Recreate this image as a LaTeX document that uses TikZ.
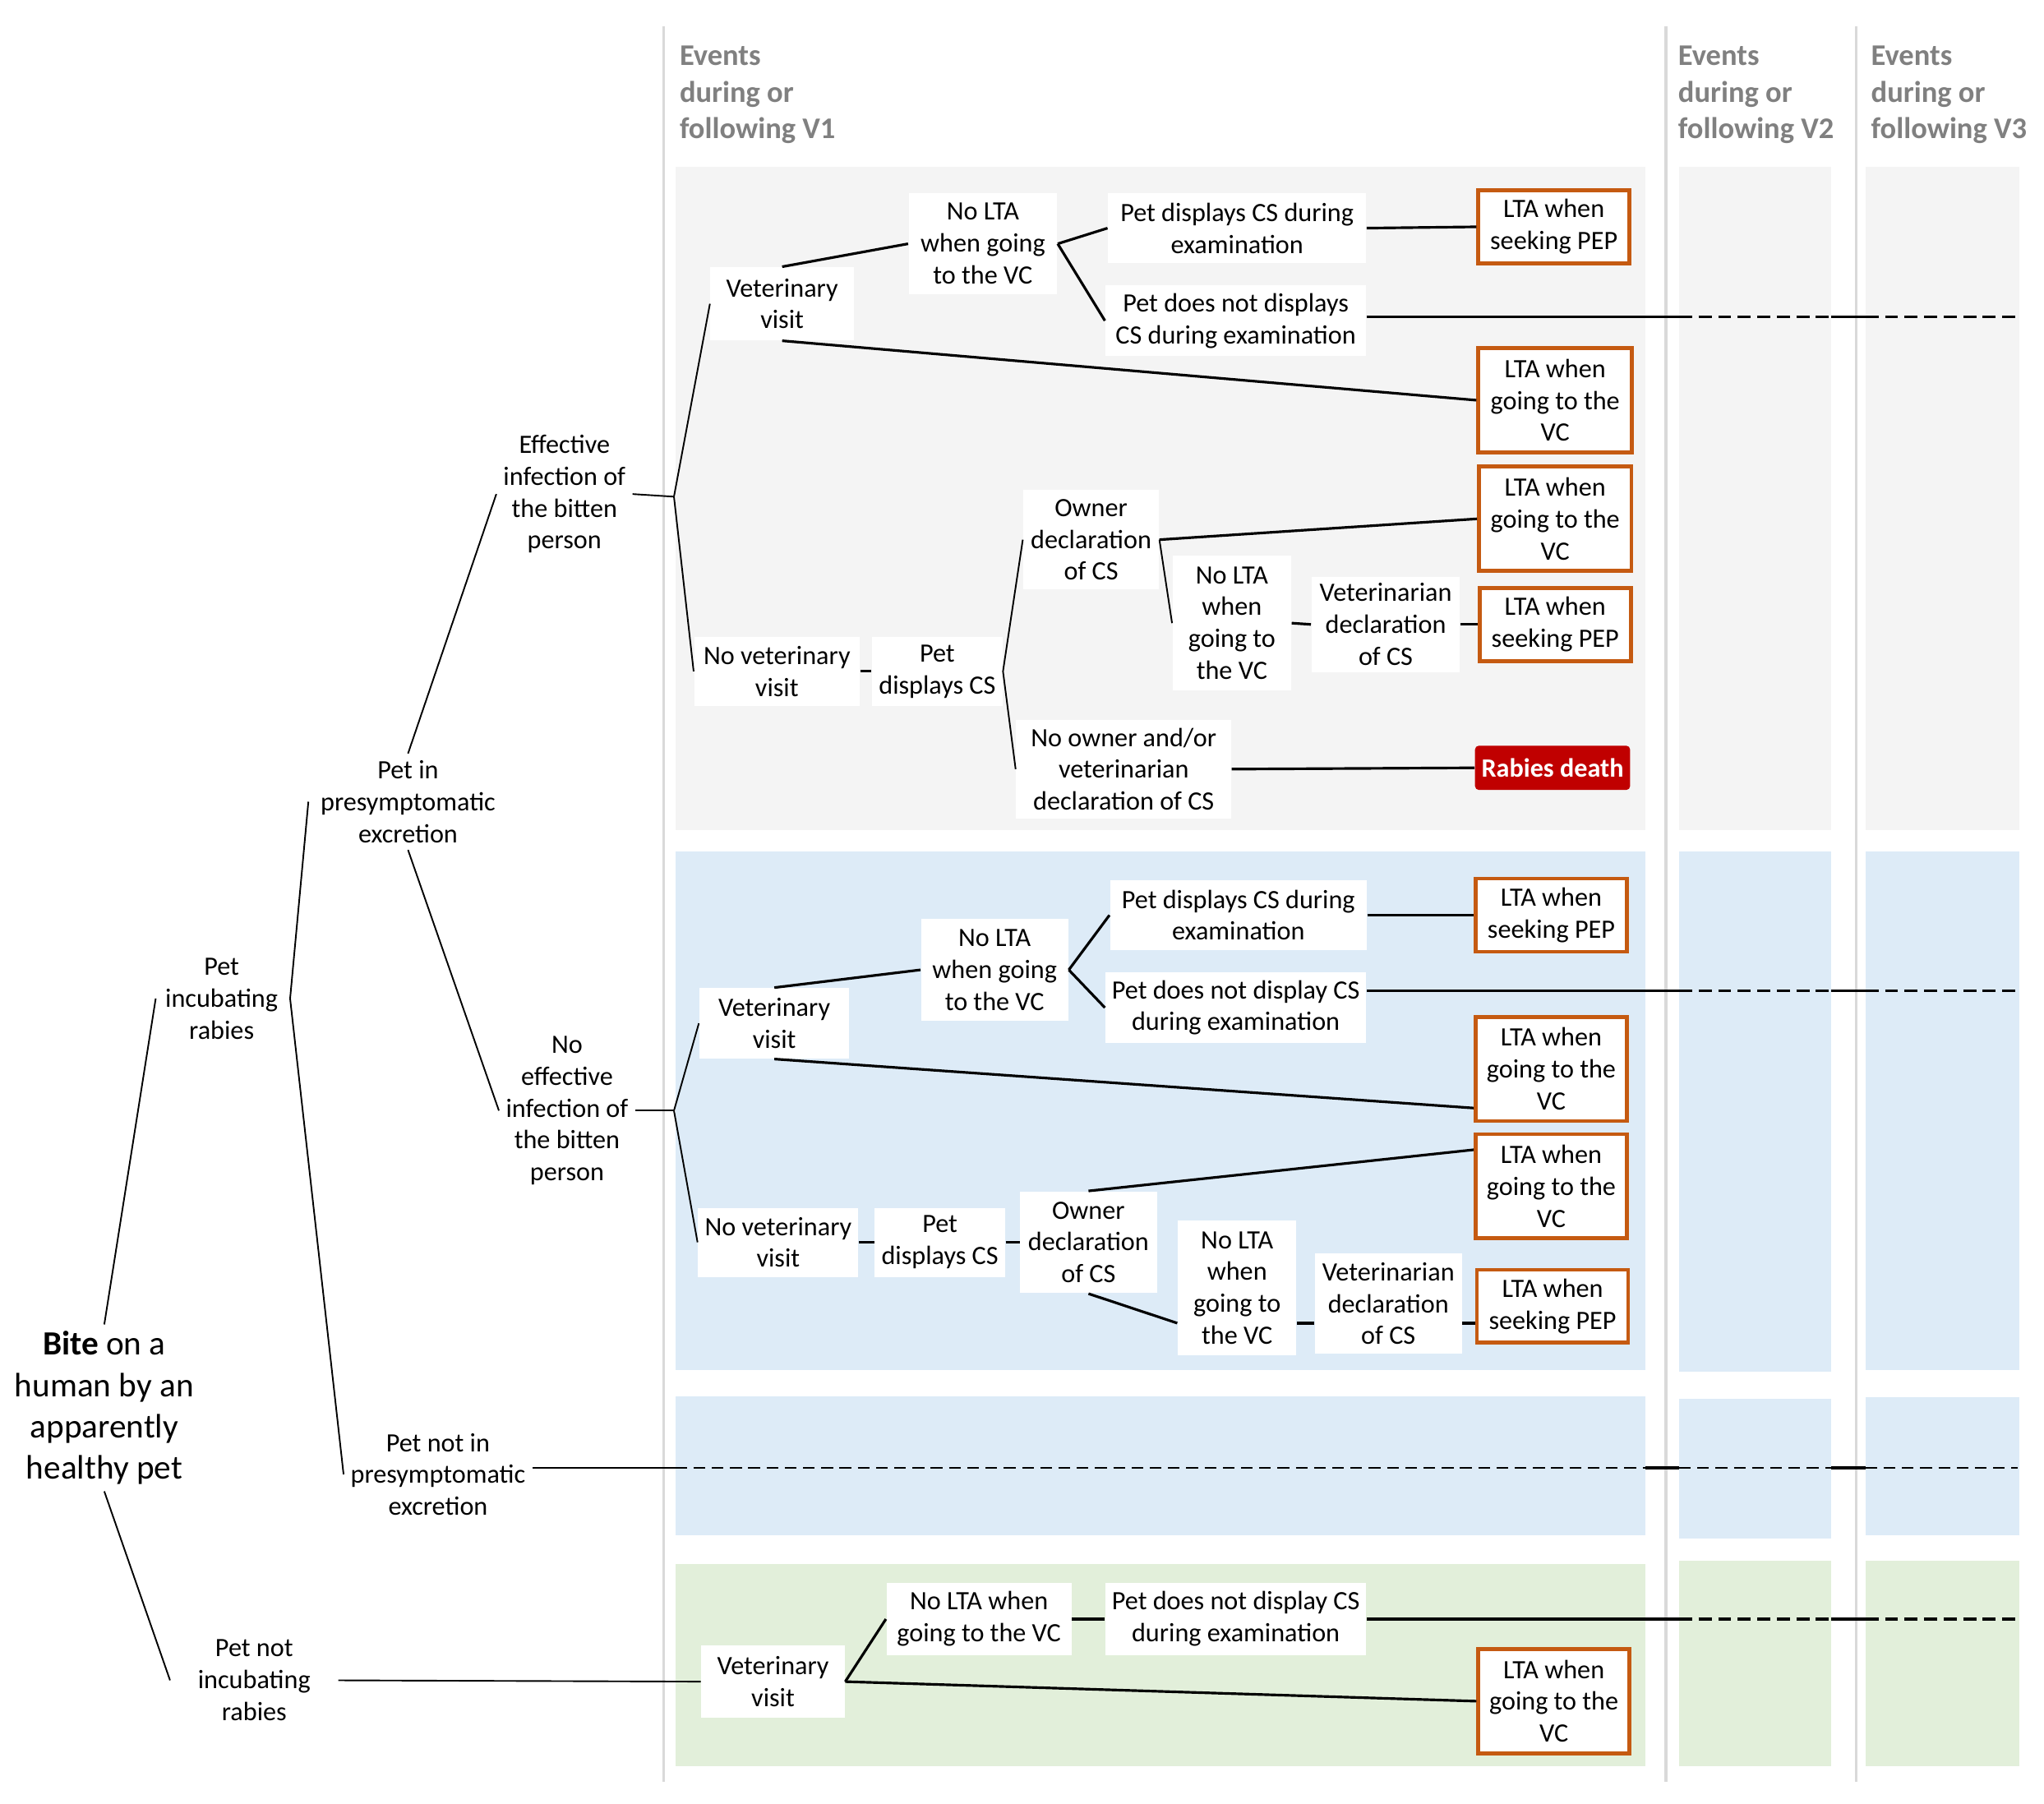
\documentclass[tikz,border=0pt]{standalone}
\usepackage{fontspec}
\setmainfont{Carlito}
\definecolor{panelgray}{HTML}{F4F4F4}
\definecolor{panelblue}{HTML}{DDEBF7}
\definecolor{panelgreen}{HTML}{E2EFDA}
\definecolor{ltaorange}{HTML}{C55A11}
\definecolor{deathred}{HTML}{C00000}
\definecolor{headgray}{HTML}{808080}
\definecolor{divgray}{HTML}{D9D9D9}
\begin{document}
\begin{tikzpicture}[x=0.5pt,y=-0.5pt,
  every node/.style={font=\fontsize{10.15}{12.25}\selectfont, align=center},
  treetext/.style={inner sep=2.5pt},
  wbox/.style 2 args={fill=white, inner sep=0pt, minimum width=#1pt, minimum height=#2pt},
  obox/.style 2 args={fill=white, draw=ltaorange, line width=1.5pt, inner sep=0pt, minimum width=#1pt, minimum height=#2pt},
  death/.style={fill=deathred, text=white, rounded corners=1.5pt, inner sep=0pt, minimum width=59.5pt, minimum height=17pt, font=\fontsize{10.15}{12.25}\selectfont\bfseries},
  header/.style={anchor=north west, inner sep=0pt, align=left, text=headgray, font=\fontsize{11.5}{14}\selectfont\bfseries},
  tline/.style={line width=0.6pt},
  cline/.style={line width=1pt},
  dline/.style={line width=1pt, dash pattern=on 5pt off 2.5pt},
  thinline/.style={line width=0.6pt},
  thindash/.style={line width=0.6pt, dash pattern=on 4.5pt off 2.5pt},
  divider/.style={draw=divgray, line width=1pt}
]
\useasboundingbox (0,0) rectangle (1568,1383.3);

% panels
\fill[panelgray] (518,128) rectangle (1262,637);
\fill[panelgray] (1288,128) rectangle (1405,637);
\fill[panelgray] (1431,128) rectangle (1549,637);
\fill[panelblue] (518,653) rectangle (1262,1051);
\fill[panelblue] (1288,653) rectangle (1405,1052);
\fill[panelblue] (1431,653) rectangle (1549,1051);
\fill[panelblue] (518,1071) rectangle (1262,1178);
\fill[panelblue] (1288,1073) rectangle (1405,1180);
\fill[panelblue] (1431,1072) rectangle (1549,1178);
\fill[panelgreen] (518,1200) rectangle (1262,1355);
\fill[panelgreen] (1288,1197) rectangle (1405,1355);
\fill[panelgreen] (1431,1197) rectangle (1549,1355);

% dividers
\draw[divider] (509,20) -- (509,1367);
\draw[divider] (1278,20) -- (1278,1367);
\draw[divider] (1424,20) -- (1424,1367);

% headers
\node[header] (h1) at (521,35) {Events\\during or\\following V1};
\node[header] (h2) at (1287,35) {Events\\during or\\following V2};
\node[header] (h3) at (1435,35) {Events\\during or\\following V3};

\coordinate (xV1l) at (518,0);
\coordinate (xV1r) at (1262,0);
\coordinate (xV2l) at (1288,0);
\coordinate (xV2r) at (1405,0);
\coordinate (xV3l) at (1431,0);
\coordinate (xEnd) at (1548,0);

% left tree
\node[treetext, font=\fontsize{13}{15.8}\selectfont] (bite) at (80,1080) {\textbf{Bite} on a\\human by an\\apparently\\healthy pet};
\node[treetext] (inc) at (170,766) {Pet\\incubating\\rabies};
\node[treetext] (presym) at (313,615) {Pet in\\presymptomatic\\excretion};
\node[treetext] (eff) at (433,379) {Effective\\infection of\\the bitten\\person};
\node[treetext] (noeff) at (435,852) {No\\effective\\infection of\\the bitten\\person};
\node[treetext] (notpresym) at (336,1131) {Pet not in\\presymptomatic\\excretion};
\node[treetext] (notinc) at (195,1289) {Pet not\\incubating\\rabies};

\coordinate (jA) at (517,381);
\coordinate (jB) at (517,852);

\draw[tline] (bite.north) -- ([xshift=-1pt]inc.west);
\draw[tline] (bite.south) -- ([xshift=-8pt]notinc.west);
\draw[tline] ([xshift=2pt]inc.east) -- ([xshift=-2pt]presym.west);
\draw[tline] ([xshift=2pt]inc.east) -- (notpresym.west);
\draw[tline] (presym.north) -- (eff.west);
\draw[tline] (presym.south) -- (noeff.west);

% ===== Row A =====
\node[wbox={55}{28}] (vvA) at (600,233) {Veterinary\\visit};
\node[wbox={57}{39}] (nlA) at (754,187) {No LTA\\when going\\to the VC};
\node[wbox={99}{27}] (pdA) at (949,175) {Pet displays CS during\\examination};
\node[wbox={100}{27}] (pnA) at (948,246) {Pet does not displays\\CS during examination};
\node[obox={58}{28}] (ls1A) at (1192,174) {LTA when\\seeking PEP};
\node[obox={59}{40}] (lg1A) at (1193,307) {LTA when\\going to the\\VC};
\node[obox={58.5}{40}] (lg2A) at (1193,398) {LTA when\\going to the\\VC};
\node[wbox={52}{38}] (odA) at (837,414) {Owner\\declaration\\of CS};
\node[wbox={45.5}{51.5}] (nl2A) at (945,478) {No LTA\\when\\going to\\the VC};
\node[wbox={57}{36.5}] (vdA) at (1063,479) {Veterinarian\\declaration\\of CS};
\node[obox={58}{28}] (ls2A) at (1193,479) {LTA when\\seeking PEP};
\node[wbox={63.5}{26.5}] (nvA) at (596,515) {No veterinary\\visit};
\node[wbox={50}{26.5}] (pcA) at (719,515) {Pet\\displays CS};
\node[wbox={82.5}{38}] (noA) at (862,590) {No owner and/or\\veterinarian\\declaration of CS};
\node[death] (rdA) at (1191,589) {Rabies death};

\draw[tline] (eff.east) -- (jA);
\draw[tline] (jA) -- (vvA.west);
\draw[tline] (jA) -- (nvA.west);
\draw[cline] (vvA.north) -- (nlA.west);
\draw[cline] (nlA.east) -- (pdA.west);
\draw[cline] (nlA.east) -- (pnA.west);
\draw[cline] (pdA.east) -- (ls1A.west);
\draw[cline] (vvA.south) -- (lg1A.west);
\draw[cline] (nvA.east) -- (pcA.west);
\draw[tline] (pcA.east) -- (odA.west);
\draw[tline] (pcA.east) -- (noA.west);
\draw[cline] (odA.east) -- (lg2A.west);
\draw[tline] (odA.east) -- (nl2A.west);
\draw[cline] (nl2A.east) -- (vdA.west);
\draw[cline] (vdA.east) -- (ls2A.west);
\draw[cline] (noA.east) -- (rdA.west);

\coordinate (dA) at ([yshift=1.5pt]pnA.east);
\draw[cline] (dA) -- (dA -| xV2l);
\draw[dline] (dA -| xV2l) -- (dA -| xV2r);
\draw[cline] (dA -| xV2r) -- (dA -| xV3l);
\draw[dline] (dA -| xV3l) -- (dA -| xEnd);

% ===== Row B =====
\node[wbox={57.5}{27}] (vvB) at (594,785) {Veterinary\\visit};
\node[wbox={56.5}{39}] (nlB) at (763,744) {No LTA\\when going\\to the VC};
\node[wbox={98.5}{27}] (pdB) at (950,702) {Pet displays CS during\\examination};
\node[wbox={100}{27}] (pnB) at (948,773) {Pet does not display CS\\during examination};
\node[obox={58}{28}] (ls1B) at (1190,702) {LTA when\\seeking PEP};
\node[obox={58}{40}] (lg1B) at (1190,820) {LTA when\\going to the\\VC};
\node[obox={58}{40}] (lg2B) at (1190,910) {LTA when\\going to the\\VC};
\node[wbox={61.5}{26.5}] (nvB) at (597,953) {No veterinary\\visit};
\node[wbox={50}{26.5}] (pcB) at (721,953) {Pet\\displays CS};
\node[wbox={52.5}{39}] (odB) at (835,953) {Owner\\declaration\\of CS};
\node[wbox={45.5}{51.5}] (nl2B) at (949,988) {No LTA\\when\\going to\\the VC};
\node[wbox={56.5}{38.5}] (vdB) at (1065,1000) {Veterinarian\\declaration\\of CS};
\node[obox={58}{28}] (ls2B) at (1191,1002) {LTA when\\seeking PEP};

\coordinate (yB) at (0,1015);
\draw[tline] (noeff.east) -- (jB);
\draw[tline] (jB) -- (vvB.west);
\draw[tline] (jB) -- (nvB.west);
\draw[cline] (vvB.north) -- (nlB.west);
\draw[cline] (nlB.east) -- (pdB.west);
\draw[cline] (nlB.east) -- (pnB.west);
\draw[cline] (pdB.east) -- (ls1B.west);
\draw[cline] (vvB.south) -- ([yshift=-15pt]lg1B.west);
\draw[cline] (odB.north) -- ([yshift=14pt]lg2B.west);
\draw[cline] (nvB.east) -- (pcB.west);
\draw[cline] (pcB.east) -- (odB.west);
\draw[cline] (odB.south) -- (nl2B.west |- yB);
\draw[cline] (nl2B.east |- yB) -- (vdB.west |- yB);
\draw[cline] (vdB.east |- yB) -- (ls2B.west |- yB);

\coordinate (dB) at ([yshift=6.5pt]pnB.east);
\draw[cline] (dB) -- (dB -| xV2l);
\draw[dline] (dB -| xV2l) -- (dB -| xV2r);
\draw[cline] (dB -| xV2r) -- (dB -| xV3l);
\draw[dline] (dB -| xV3l) -- (dB -| xEnd);

% ===== Row C =====
\coordinate (dC) at ([yshift=2.5pt]notpresym.east);
\draw[thinline] (dC) -- (dC -| xV1l);
\draw[thindash] (dC -| xV1l) -- (dC -| xV1r);
\draw[cline] (dC -| xV1r) -- (dC -| xV2l);
\draw[thindash] (dC -| xV2l) -- (dC -| xV2r);
\draw[cline] (dC -| xV2r) -- (dC -| xV3l);
\draw[thindash] (dC -| xV3l) -- (dC -| xEnd);

% ===== Row D =====
\node[wbox={55}{27.5}] (vvD) at (593,1290) {Veterinary\\visit};
\node[wbox={71}{27.5}] (nlD) at (751,1242) {No LTA when\\going to the VC};
\node[wbox={100}{27.5}] (pnD) at (948,1242) {Pet does not display CS\\during examination};
\node[obox={58}{40}] (lgD) at (1192,1305) {LTA when\\going to the\\VC};

\draw[tline] ([xshift=8pt]notinc.east) -- (vvD.west);
\draw[cline] (vvD.east) -- (nlD.west);
\draw[cline] (vvD.east) -- (lgD.west);
\draw[cline] (nlD.east) -- (pnD.west);

\coordinate (dD) at (pnD.east);
\draw[cline] (dD) -- (dD -| xV2l);
\draw[dline] (dD -| xV2l) -- (dD -| xV2r);
\draw[cline] (dD -| xV2r) -- (dD -| xV3l);
\draw[dline] (dD -| xV3l) -- (dD -| xEnd);
\end{tikzpicture}
\end{document}
